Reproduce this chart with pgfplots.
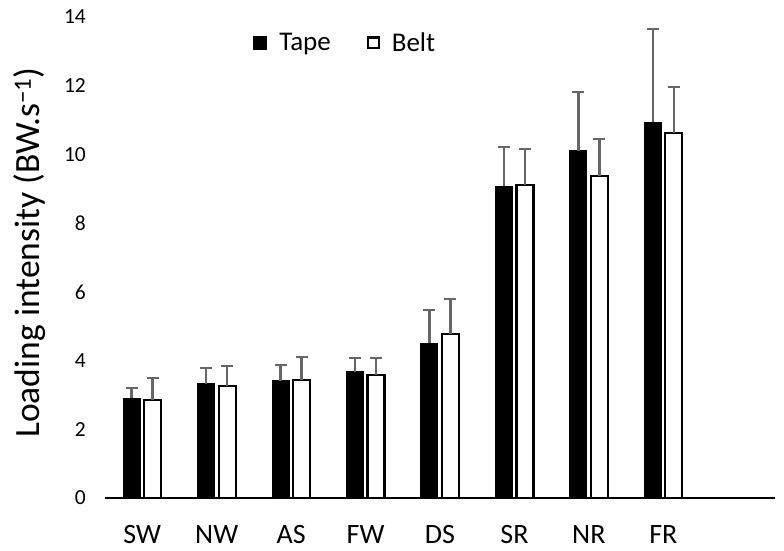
\documentclass[border=0pt]{standalone}
\usepackage{fontspec}
\setmainfont{Carlito}
\usepackage{pgfplots}
\pgfplotsset{compat=1.18}
\usepackage{pgfplotstable}

% category  value  error
\pgfplotstableread{
x  y      e
0  2.91   0.29
1  3.32   0.46
2  3.41   0.46
3  3.67   0.40
4  4.51   0.96
5  9.08   1.14
6  10.10  1.72
7  10.94  2.71
}\tape
\pgfplotstableread{
x  y      e
0  2.85   0.64
1  3.26   0.58
2  3.43   0.67
3  3.58   0.49
4  4.77   1.02
5  9.11   1.05
6  9.37   1.08
7  10.62  1.34
}\belt

\definecolor{errgray}{RGB}{102,102,102}

\begin{document}
\begin{tikzpicture}
\useasboundingbox (-105pt,-53pt) rectangle (679pt,498pt);
\begin{axis}[
  at={(0,0)}, anchor=south west,
  scale only axis,
  width=670pt, height=481pt,
  xmin=-0.5, xmax=8.5,
  ymin=0, ymax=14,
  enlargelimits=false,
  clip=false,
  axis x line*=bottom,
  axis y line*=left,
  y axis line style={draw=none},
  x axis line style={line width=1.5pt},
  major tick length=0pt,
  tick style={draw=none},
  xtick={0,...,7},
  xticklabels={SW,NW,AS,FW,DS,SR,NR,FR},
  ytick={0,2,...,14},
  /pgf/number format/assume math mode=true,
  xticklabel style={font=\fontsize{28}{28}\selectfont, anchor=north, inner sep=0pt, yshift=-27pt},
  yticklabel style={font=\fontsize{21.5}{21.5}\selectfont, anchor=east, inner sep=0pt, xshift=-19pt},
  ylabel={Loading intensity (BW.s\textsuperscript{−1})},
  ylabel style={font=\fontsize{35.5}{35.5}\selectfont, at={(axis description cs:-0.112,0.51)}, anchor=center, rotate=0},
  ybar,
  bar width=17pt,
  error bars/y dir=plus,
  error bars/y explicit,
  error bars/error bar style={errgray, line width=2.5pt},
  error bars/error mark options={rotate=90, errgray, line width=2.5pt, mark size=6pt},
  legend columns=2,
  legend style={
    at={(axis description cs:0.221,0.946)}, anchor=west,
    draw=none, fill=none, inner sep=0pt,
    font=\fontsize{27}{27}\selectfont,
    /tikz/every odd column/.append style={column sep=10pt},
    /tikz/every even column/.append style={column sep=34pt},
    legend cell align=left,
  },
]
\addplot[bar shift=-10.5pt, fill=black, draw=black, line width=1pt,
  legend image code/.code={\draw[fill=black, draw=black] (0pt,-6.5pt) rectangle (13pt,6.5pt);}]
  table[x=x, y=y, y error=e] {\tape};
\addlegendentry{Tape}
\addplot[bar shift=10.5pt, fill=white, draw=black, line width=2.2pt,
  legend image code/.code={\draw[fill=white, draw=black, line width=2.2pt] (1.1pt,-5.4pt) rectangle (11.9pt,5.4pt);}]
  table[x=x, y=y, y error=e] {\belt};
\addlegendentry{Belt}
\end{axis}
\end{tikzpicture}
\end{document}
